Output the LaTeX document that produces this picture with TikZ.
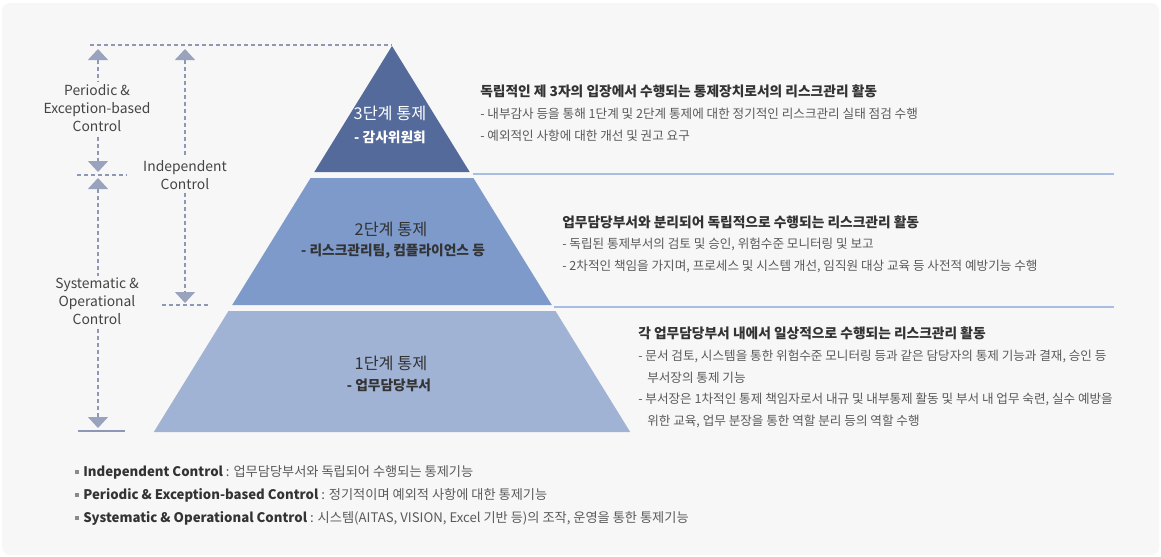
\documentclass[tikz,border=0pt]{standalone}
\usepackage{fontspec}
\setmainfont{Noto Sans CJK KR}
\usetikzlibrary{arrows.meta}
\definecolor{bgc}{HTML}{F7F7F7}
\definecolor{tthree}{HTML}{546A9B}
\definecolor{ttwo}{HTML}{7D9ACA}
\definecolor{tone}{HTML}{A0B3D5}
\definecolor{sepc}{HTML}{A9BDE3}
\definecolor{arrc}{HTML}{9AA3BE}
\definecolor{dashc}{HTML}{8E97B3}
\definecolor{headc}{HTML}{333333}
\definecolor{bodyc}{HTML}{5A5A5A}
\definecolor{labc}{HTML}{444444}
\definecolor{bulc}{HTML}{8A8A8A}
\tikzset{
  tri/.tip={Triangle[width=15pt,length=8.25pt,fill=arrc,color=arrc]},
  dimline/.style={draw=dashc,line width=1.1pt,dash pattern=on 3pt off 2.25pt},
  dimarrow/.style={dimline,tri-tri},
  sidelab/.style={fill=bgc,text=labc,align=center,font=\fontsize{10.4}{13.5}\selectfont,inner sep=1.5pt},
  tierhead/.style={font=\fontsize{12.2}{14}\selectfont,text=headc,inner sep=0pt},
  tiersub/.style={font=\bfseries\fontsize{10.3}{12}\selectfont,text=headc,inner sep=0pt},
  head/.style={anchor=west,font=\bfseries\fontsize{10.3}{12}\selectfont,text=headc,inner sep=0pt},
  body/.style={anchor=west,font=\fontsize{9.45}{12}\selectfont,text=bodyc,inner sep=0pt},
  legend/.style={anchor=west,font=\fontsize{9.9}{12}\selectfont,text=bodyc,inner sep=0pt},
  bul/.style={fill=bulc,inner sep=0pt,minimum size=2.6pt},
  sepline/.style={draw=sepc,line width=0.8pt}
}
\begin{document}
\begin{tikzpicture}[x=0.75pt,y=-0.75pt]
\useasboundingbox (0,0) rectangle (1161,557);
\fill[white] (0,0) rectangle (1161,557);
\fill[bgc,rounded corners=6pt] (2,3) rectangle (1159,555);

% pyramid
\fill[tthree] (392,46) -- (314.3,172) -- (469.7,172) -- cycle;
\fill[ttwo] (310.6,178) -- (473.4,178) -- (551.8,305) -- (232.2,305) -- cycle;
\fill[tone] (228.5,311) -- (555.5,311) -- (630.2,432) -- (153.8,432) -- cycle;

\node[tierhead,text=white] (t3a) at (390,113) {3단계 통제};
\node[tiersub,text=white] (t3b) at (390,137) {- 감사위원회};
\node[tierhead] (t2a) at (391,229) {2단계 통제};
\node[tiersub] (t2b) at (393,251) {- 리스크관리팀, 컴플라이언스 등};
\node[tierhead] (t1a) at (391,363) {1단계 통제};
\node[tiersub] (t1b) at (389,385) {- 업무담당부서};

% separators
\coordinate (s1a) at (473,174); \coordinate (s1b) at (1114,174);
\coordinate (s2a) at (554,307); \coordinate (s2b) at (1114,307);
\draw[sepline] (s1a) -- (s1b);
\draw[sepline] (s2a) -- (s2b);

% text blocks
\node[head] (h3) at (480,91) {독립적인 제 3자의 입장에서 수행되는 통제장치로서의 리스크관리 활동};
\node[body] (b31) at (480,114) {- 내부감사 등을 통해 1단계 및 2단계 통제에 대한 정기적인 리스크관리 실태 점검 수행};
\node[body] (b32) at (480,136) {- 예외적인 사항에 대한 개선 및 권고 요구};

\node[head] (h2) at (562,222) {업무담당부서와 분리되어 독립적으로 수행되는 리스크관리 활동};
\node[body] (b21) at (562,244) {- 독립된 통제부서의 검토 및 승인, 위험수준 모니터링 및 보고};
\node[body] (b22) at (562,266) {- 2차적인 책임을 가지며, 프로세스 및 시스템 개선, 임직원 대상 교육 등 사전적 예방기능 수행};

\node[head] (h1) at (638,333) {각 업무담당부서 내에서 일상적으로 수행되는 리스크관리 활동};
\node[body] (b11) at (638,356) {- 문서 검토, 시스템을 통한 위험수준 모니터링 등과 같은 담당자의 통제 기능과 결재, 승인 등};
\node[body] (b12) at (647,378) {부서장의 통제 기능};
\node[body] (b13) at (638,399) {- 부서장은 1차적인 통제 책임자로서 내규 및 내부통제 활동 및 부서 내 업무 숙련, 실수 예방을};
\node[body] (b14) at (647,421) {위한 교육, 업무 분장을 통한 역할 분리 등의 역할 수행};

% left dimension markers
\coordinate (topL) at (90,45);
\coordinate (apex) at (392,45);
\draw[dimline] (topL) -- (apex);
\coordinate (midL) at (77,175); \coordinate (midR) at (127,175);
\draw[dimline] (midL) -- (midR);
\coordinate (lowL) at (162,305); \coordinate (lowR) at (208,305);
\draw[dimline] (lowL) -- (lowR);
\coordinate (botL) at (78,431); \coordinate (botR) at (125,431);
\draw[draw=dashc,line width=1.5pt] (botL) -- (botR);

\coordinate (a1t) at (98,49); \coordinate (a1b) at (98,172);
\coordinate (a2t) at (98,178); \coordinate (a2b) at (98,428);
\coordinate (a3t) at (185,49); \coordinate (a3b) at (185,303);
\draw[dimarrow] (a1t) -- (a1b);
\draw[dimarrow] (a2t) -- (a2b);
\draw[dimarrow] (a3t) -- (a3b);

\node[sidelab] (lp) at (97,108) {Periodic \&\\Exception-based\\Control};
\node[sidelab] (ls) at (97,301) {Systematic \&\\Operational\\Control};
\node[sidelab] (li) at (185,175) {Independent\\Control};

% legend
\node[bul] (q1) at (77,472) {};
\node[bul] (q2) at (77,495) {};
\node[bul] (q3) at (77,518) {};
\node[legend] (g1) at (83,472) {\textbf{\color{headc}Independent Control} : 업무담당부서와 독립되어 수행되는 통제기능};
\node[legend] (g2) at (83,495) {\textbf{\color{headc}Periodic \& Exception-based Control} : 정기적이며 예외적 사항에 대한 통제기능};
\node[legend] (g3) at (83,518) {\textbf{\color{headc}Systematic \& Operational Control} : 시스템(AITAS, VISION, Excel 기반 등)의 조작, 운영을 통한 통제기능};
\end{tikzpicture}
\end{document}
